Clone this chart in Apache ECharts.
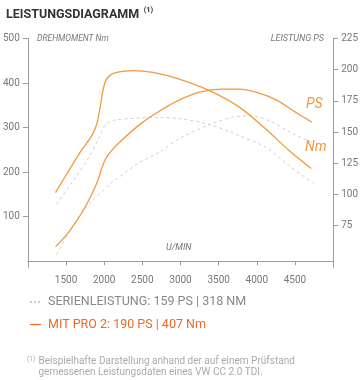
<!DOCTYPE html>
<html><head><meta charset="utf-8">
<script src="https://cdn.jsdelivr.net/npm/echarts@6/dist/echarts.min.js"></script>
<style>html,body{margin:0;padding:0;background:#fff}#c{width:361px;height:380px}</style>
</head><body><div id="c"></div>
<script>
// Data
const xTicks = [1500, 2000, 2500, 3000, 3500, 4000, 4500];
const leftTicks = [100, 200, 300, 400, 500];
const rightTicks = [75, 100, 125, 150, 175, 200, 225];

const rpmTunedNm = [1362,1514,1686,1838,1903,1946,1998,2054,2162,2378,2638,2983,3381,3770,4117,4419,4713];
const tunedNm    = [154,197,245,282,308,345,394,414,424,428,424,409,383,346,297,249,208];

const rpmTunedPS = [1362,1556,1751,1903,1968,2032,2205,2508,2811,2992,3252,3554,3770,3987,4246,4506,4721];
const tunedPS    = [58,71.5,90,109,121,130,142,158,170,176,182,184.5,184.5,182,176,166,158];

const rpmStockNm = [1375,1600,1816,1925,2010,2119,2421,2724,2992,3381,3770,4117,4419,4743];
const stockNm    = [128,182,238,275,305,316,321,323,320,307,282,256,215,175];

const rpmStockPS = [1375,1643,1860,2075,2421,2724,2992,3381,3684,3943,4202,4462,4721];
const stockPS    = [52,80,96,108,124,134,145,156,162,163,158,149,142];

const zip = (a, b) => a.map((v, i) => [v, b[i]]);

const ORANGE = '#f39a3e';
const ORANGE_TXT = '#ea6a26';
const GRAY_DASH = '#cfcfcf';
const AXIS = '#9c9c9c';
const LBL = '#777';
const FONT = 'Roboto, "Noto Sans", sans-serif';

const chart = echarts.init(document.getElementById('c'), null, {renderer: 'canvas'});
chart.setOption({
  animation: false,
  textStyle: {fontFamily: FONT},
  title: {
    left: 1, top: 1,
    text: '{a|LEISTUNGSDIAGRAMM} {s|(1)}',
    textStyle: {
      rich: {
        a: {fontFamily: FONT, fontWeight: 'bold', fontSize: 12.5, color: '#333'},
        s: {fontFamily: FONT, fontWeight: 'bold', fontSize: 7.5, color: '#333', verticalAlign: 'top', padding: [0,0,6,0]}
      }
    }
  },
  grid: {left: 26.4, right: 26.5, top: 38.5, bottom: 112.5, containLabel: false},
  xAxis: {
    type: 'value', min: 1000, max: 5000,
    axisLine: {show: true, lineStyle: {color: AXIS, width: 1}},
    axisTick: {show: true, length: 4, customValues: xTicks, lineStyle: {color: AXIS}},
    axisLabel: {customValues: xTicks, color: LBL, fontSize: 10, margin: 8, fontFamily: FONT, formatter: v => String(v)},
    splitLine: {show: false}
  },
  yAxis: [
    {
      type: 'value', min: -14, max: 500, position: 'left',
      axisLine: {show: true, lineStyle: {color: AXIS, width: 1}},
      axisTick: {show: true, length: 5, customValues: leftTicks, lineStyle: {color: AXIS}},
      axisLabel: {customValues: leftTicks, color: LBL, fontSize: 10, margin: 8, fontFamily: FONT},
      splitLine: {show: false}
    },
    {
      type: 'value', min: 41.5, max: 225, position: 'right',
      axisLine: {show: true, lineStyle: {color: AXIS, width: 1}},
      axisTick: {show: true, length: 5, customValues: rightTicks, lineStyle: {color: AXIS}},
      axisLabel: {customValues: rightTicks, color: LBL, fontSize: 10, margin: 8, fontFamily: FONT},
      splitLine: {show: false}
    }
  ],
  series: [
    {type: 'line', yAxisIndex: 0, data: zip(rpmStockNm, stockNm), smooth: 0.3, showSymbol: false,
     lineStyle: {color: GRAY_DASH, width: 1, type: [3, 3]}},
    {type: 'line', yAxisIndex: 1, data: zip(rpmStockPS, stockPS), smooth: 0.3, showSymbol: false,
     lineStyle: {color: GRAY_DASH, width: 1, type: [3, 3]}},
    {type: 'line', yAxisIndex: 0, data: zip(rpmTunedNm, tunedNm), smooth: 0.3, showSymbol: false,
     lineStyle: {color: ORANGE, width: 1.3}},
    {type: 'line', yAxisIndex: 1, data: zip(rpmTunedPS, tunedPS), smooth: 0.3, showSymbol: false,
     lineStyle: {color: ORANGE, width: 1.3}}
  ],
  graphic: [
    {type: 'text', left: 37, top: 34.5, style: {text: 'DREHMOMENT Nm', fontFamily: FONT, fontStyle: 'italic', fontSize: 8.5, fill: '#777'}},
    {type: 'text', right: 37, top: 34, style: {text: 'LEISTUNG PS', fontFamily: FONT, fontStyle: 'italic', fontSize: 9, fill: '#777'}},
    {type: 'text', left: 166, top: 243, style: {text: 'U/MIN', fontFamily: FONT, fontStyle: 'italic', fontSize: 9, fill: '#777'}},
    {type: 'text', left: 306, top: 97, style: {text: 'PS', fontFamily: FONT, fontStyle: 'italic', fontSize: 14, fill: ORANGE}},
    {type: 'text', left: 305, top: 140, style: {text: 'Nm', fontFamily: FONT, fontStyle: 'italic', fontSize: 14, fill: ORANGE}},
    // legend
    {type: 'line', shape: {x1: 30, y1: 302, x2: 41, y2: 302}, style: {stroke: '#999', lineWidth: 1, lineDash: [2, 2]}},
    {type: 'text', left: 48, top: 295, style: {text: 'SERIENLEISTUNG: 159 PS | 318 NM', fontFamily: FONT, fontSize: 12.5, fill: '#888'}},
    {type: 'line', shape: {x1: 30, y1: 324.5, x2: 41, y2: 324.5}, style: {stroke: ORANGE_TXT, lineWidth: 1.2}},
    {type: 'text', left: 48, top: 318.5, style: {text: 'MIT PRO 2: 190 PS | 407 Nm', fontFamily: FONT, fontSize: 12.5, fill: ORANGE_TXT}},
    // footnote
    {type: 'text', left: 27, top: 355.5, style: {text: '(1)', fontFamily: FONT, fontSize: 6.5, fill: '#aaa'}},
    {type: 'text', left: 38.5, top: 356, style: {text: 'Beispielhafte Darstellung anhand der auf einem Prüfstand', fontFamily: FONT, fontSize: 10, fill: '#aaa'}},
    {type: 'text', left: 38.5, top: 367.5, style: {text: 'gemessenen Leistungsdaten eines VW CC 2.0 TDI.', fontFamily: FONT, fontSize: 10, fill: '#aaa'}}
  ]
});
</script>
</body></html>
